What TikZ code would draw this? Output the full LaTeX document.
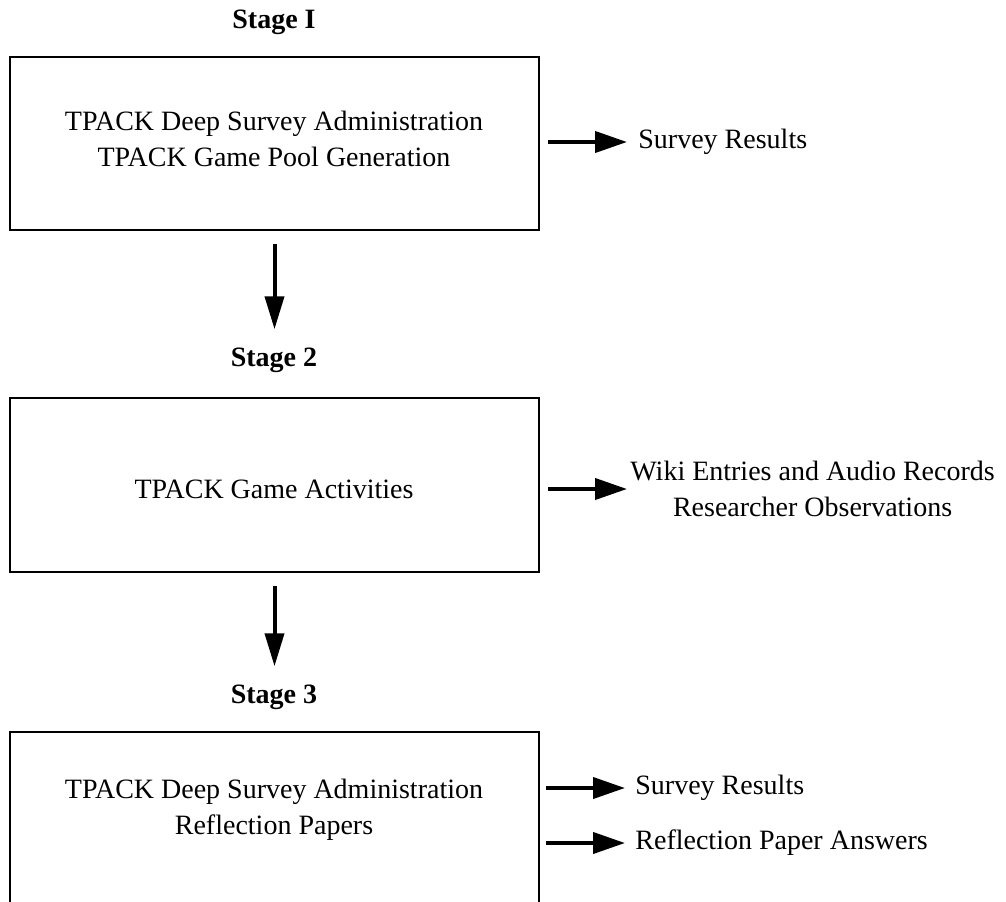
\documentclass[tikz,border=0pt]{standalone}
\usepackage{fontspec}
\setmainfont{Liberation Serif}
\usetikzlibrary{arrows.meta}
\tikzset{
    stagebox/.style={draw, line width=0.9pt, minimum width=264.5pt, minimum height=86.5pt, inner sep=0pt},
    boxtext/.style={align=center, font=\fontsize{14}{18}\selectfont},
    outtext/.style={boxtext, anchor=west, inner sep=0pt},
    flow/.style={line width=2pt, -{Triangle[length=16pt,width=10.5pt]}}
}
\begin{document}
\begin{tikzpicture}[x=.5pt, y=-.5pt]
\useasboundingbox (0,0) rectangle (1006,901);

\foreach \y/\stext [count=\i] in {22/I,360/2,697/3}
{
    \node (stage\i) at (274,\y) [boxtext, inner sep=0pt] {\bfseries Stage \stext};
}

\node (box1) at (274.5,143.5) [stagebox] {};
\node (box2) at (274.5,485) [stagebox, minimum height=87pt] {};
\node (box3) at (274.5,818.5) [stagebox] {};

\node (task1) at (274,138.5) [boxtext] {TPACK Deep Survey Administration\\TPACK Game Pool Generation};
\node (task2) at (274,489) [boxtext] {TPACK Game Activities};
\node (task3) at (274,810) [boxtext] {TPACK Deep Survey Administration\\Reflection Papers};

\node (res1) at (638,142) [outtext] {Survey Results};
\node (res2) at (630,489) [outtext] {Wiki Entries and Audio Records\\Researcher Observations};
\node (res3a) at (635,788) [outtext] {Survey Results};
\node (res3b) at (635,843) [outtext] {Reflection Paper Answers};

\draw [flow, shorten <=4pt, shorten >=5.5pt] (box1.east |- res1) -- (res1.west);
\draw [flow, shorten <=4pt, shorten >=1.5pt] (box2.east |- res2) -- (res2.west);
\foreach \r in {res3a,res3b}
{
    \draw [flow, shorten <=3pt, shorten >=5pt] (box3.east |- \r) -- (\r.west);
}

\foreach \a/\b in {1/2,2/3}
{
    \draw [flow, -{Triangle[length=16.5pt,width=9.5pt]}, shorten <=6.5pt, shorten >=9pt] (box\a.south) -- (box\a.south |- stage\b.north);
}
\end{tikzpicture}
\end{document}
